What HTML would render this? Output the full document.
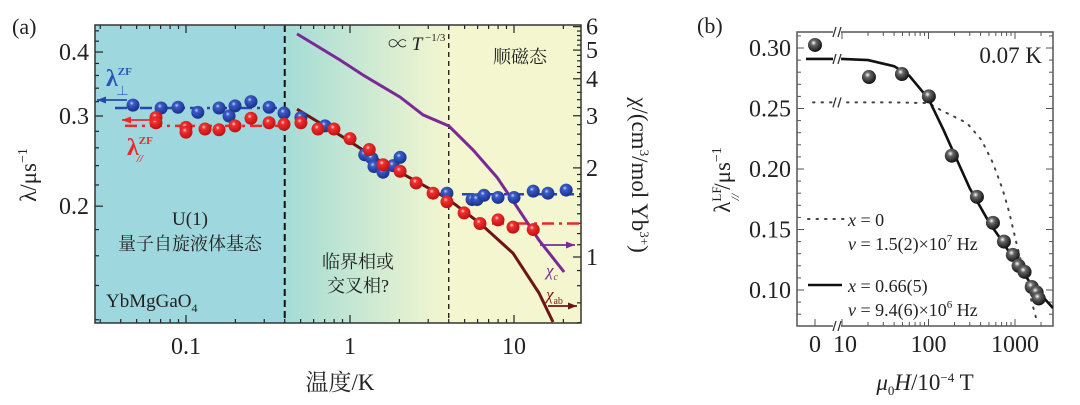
<!DOCTYPE html>
<html><head><meta charset="utf-8">
<style>
html,body{margin:0;padding:0;background:#fff;}
svg{display:block;font-family:"Liberation Serif","Noto Serif CJK SC",serif;}
</style></head>
<body>
<svg id="fig" width="1080" height="405" viewBox="0 0 1080 405" xmlns="http://www.w3.org/2000/svg">
<defs>
<linearGradient id="bgGrad" x1="0" x2="1" y1="0" y2="0">
<stop offset="0" stop-color="#a4dcd6"/><stop offset="1" stop-color="#f4f6cf"/>
</linearGradient>
<radialGradient id="blueBall" cx="0.4" cy="0.35" r="0.65">
<stop offset="0" stop-color="#c8d4ff"/><stop offset="0.25" stop-color="#3a5cc8"/><stop offset="1" stop-color="#1a2f8a"/>
</radialGradient>
<radialGradient id="redBall" cx="0.4" cy="0.35" r="0.65">
<stop offset="0" stop-color="#ffd8d8"/><stop offset="0.25" stop-color="#f03030"/><stop offset="1" stop-color="#c01010"/>
</radialGradient>
<radialGradient id="blackBall" cx="0.4" cy="0.35" r="0.65">
<stop offset="0" stop-color="#ffffff"/><stop offset="0.3" stop-color="#666"/><stop offset="1" stop-color="#111"/>
</radialGradient>
<clipPath id="clipB"><rect x="797" y="32" width="256" height="294"/></clipPath>
</defs>
<g id="pa"></g>
<g id="pb"></g>
</svg>
<script>
// ---------- Panel (a) data ----------
const blueT = [0.0475,0.0705,0.0894,0.118,0.159,0.183,0.199,0.249,0.321,0.396,0.502,0.704,1.23,1.36,1.40,1.59,1.83,2.02,3.90,5.55,5.95,6.56,7.99,10.0,13.1,16.1,20.8];
const blueLam = [0.315,0.311,0.312,0.305,0.311,0.300,0.314,0.320,0.312,0.304,0.298,0.287,0.252,0.248,0.239,0.233,0.240,0.249,0.212,0.206,0.206,0.210,0.208,0.208,0.214,0.212,0.215];
const redT = [0.0656,0.0656,0.1,0.1,0.1306,0.159,0.199,0.249,0.321,0.396,0.502,0.638,0.798,1.0,1.31,1.59,2.02,2.53,3.21,3.90,4.96,6.20,7.99,9.86,13.1];
const redLam = [0.298,0.291,0.285,0.279,0.283,0.282,0.287,0.297,0.291,0.289,0.291,0.283,0.283,0.271,0.258,0.241,0.234,0.222,0.212,0.204,0.194,0.185,0.188,0.182,0.180];
const chiCT = [0.475,0.869,1.20,2.02,2.79,4.01,5.62,7.87,10.4,14.2,20.2];
const chiCVal = [5.67,4.63,4.12,3.47,3.02,2.77,2.30,1.86,1.48,1.14,0.89];
const chiAbT = [0.475,0.869,1.59,3.90,6.20,9.86,14.2,17.3];
const chiAbVal = [3.16,2.58,2.08,1.58,1.30,1.03,0.756,0.603];
const aXTicks = [0.1,1,10];
const aXTickLabels = ["0.1","1","10"];
const aYTicks = [0.2,0.3,0.4];
const aYTickLabels = ["0.2","0.3","0.4"];
const aY2Ticks = [1,2,3,4,5,6];
const aY2TickLabels = ["1","2","3","4","5","6"];
// ---------- Panel (b) data ----------
const bField = [0,20.5,49.3,101,186,363,556,745,944,1100,1290,1560,1780,1880];
const bLam = [0.3025,0.276,0.2785,0.260,0.211,0.177,0.1555,0.140,0.129,0.120,0.115,0.1025,0.098,0.093];
const fitField = [10,20,40,60,100,150,200,300,500,700,1000,1500,2000,2750];
const fitLam = [0.291,0.290,0.285,0.277,0.258,0.232,0.212,0.184,0.156,0.141,0.124,0.106,0.096,0.085];
const dotField = [10,40,100,136,278,410,556,720,860,1060,1340,1780];
const dotLam = [0.255,0.255,0.2545,0.249,0.238,0.224,0.205,0.183,0.164,0.136,0.108,0.075];
const bYTicks = [0.10,0.15,0.20,0.25,0.30];
const bYTickLabels = ["0.10","0.15","0.20","0.25","0.30"];
const bXTicks = [10,100,1000];
const bXTickLabels = ["10","100","1000"];

const NS="http://www.w3.org/2000/svg";
function mk(parent,tag,attrs,text){const e=document.createElementNS(NS,tag);for(const k in attrs)e.setAttribute(k,attrs[k]);if(text!==undefined)e.textContent=text;parent.appendChild(e);return e;}

// ---- Panel (a) axes ----
const A={l:95,r:581,t:25,b:323};
const ax=T=>350+164*Math.log10(T);
const ay=v=>116-512*Math.log10(v/0.3);
const ay2=v=>257-296*Math.log10(v);
const pa=document.getElementById('pa');

let e;
e=mk(pa,'rect',{x:A.l,y:A.t,width:ax(0.4)-A.l,height:A.b-A.t,fill:'#9ed8de'});


e=mk(pa,'rect',{x:ax(0.4),y:A.t,width:ax(4)-ax(0.4),height:A.b-A.t,fill:'url(#bgGrad)'});


e=mk(pa,'rect',{x:ax(4),y:A.t,width:A.r-ax(4),height:A.b-A.t,fill:'#f4f6cf'});



e=mk(pa,'line',{x1:ax(0.4),x2:ax(0.4),y1:A.t,y2:A.b,stroke:'#111','stroke-width':2,'stroke-dasharray':'7,4'});


e=mk(pa,'line',{x1:ax(4),x2:ax(4),y1:A.t,y2:A.b,stroke:'#111','stroke-width':1.3,'stroke-dasharray':'5,4'});



const tg=mk(pa,'g',{stroke:'#222','stroke-width':1.2});


for(let d=-2;d<=1;d++)for(let m=1;m<10;m++){const T=m*Math.pow(10,d);const x=ax(T);if(x<A.l||x>A.r)continue;const L=m===1?8:4;mk(tg,'line',{x1:x,x2:x,y1:A.b,y2:A.b-L});mk(tg,'line',{x1:x,x2:x,y1:A.t,y2:A.t+L});}
for(let v=0.12;v<=0.45;v+=0.02){const y=ay(v);if(y<A.t||y>A.b)continue;const major=Math.abs(v*10-Math.round(v*10))<1e-6;mk(tg,'line',{x1:A.l,x2:A.l+(major?8:4),y1:y,y2:y});}
for(let v=0.6;v<=6.01;v+=(v<1.99?0.1:0.2)){const y=ay2(v);if(y<A.t-0.5||y>A.b)continue;const major=Math.abs(v-Math.round(v))<1e-6;mk(tg,'line',{x1:A.r,x2:A.r-(major?8:4),y1:y,y2:y});}

aXTicks.forEach((t,i)=>{const el=mk(pa,'text',{x:ax(t),y:354,'font-size':24,'text-anchor':'middle',fill:'#222'},aXTickLabels[i]);

});
aYTicks.forEach((t,i)=>{const el=mk(pa,'text',{x:89,y:ay(t)+8,'font-size':24,'text-anchor':'end',fill:'#222'},aYTickLabels[i]);

});
aY2Ticks.forEach((t,i)=>{const el=mk(pa,'text',{x:586,y:ay2(t)+8,'font-size':24,'text-anchor':'start',fill:'#222'},aY2TickLabels[i]);

});

function path(pts){return pts.map((p,i)=>(i?'L':'M')+p[0].toFixed(1)+','+p[1].toFixed(1)).join(' ');}
e=mk(pa,'line',{x1:115,x2:ax(0.4),y1:ay(0.311),y2:ay(0.311),stroke:'#2447b0','stroke-width':2.5,'stroke-dasharray':'12,5,3,5'});


e=mk(pa,'line',{x1:462,x2:A.r,y1:ay(0.211),y2:ay(0.211),stroke:'#2447b0','stroke-width':2.5,'stroke-dasharray':'12,5,3,5'});


e=mk(pa,'line',{x1:125,x2:ax(0.4),y1:ay(0.287),y2:ay(0.287),stroke:'#e82a2a','stroke-width':2.5,'stroke-dasharray':'12,5,3,5'});


e=mk(pa,'line',{x1:492,x2:A.r,y1:ay(0.185),y2:ay(0.185),stroke:'#e82a2a','stroke-width':2.5,'stroke-dasharray':'12,5,3,5'});



e=mk(pa,'path',{d:path(chiCT.map((t,i)=>[ax(t),ay2(chiCVal[i])])),fill:'none',stroke:'#7a2a96','stroke-width':3});


e=mk(pa,'path',{d:path(chiAbT.map((t,i)=>[ax(t),ay2(chiAbVal[i])])),fill:'none',stroke:'#6e1414','stroke-width':3});



blueT.forEach((t,i)=>{const c=mk(pa,'circle',{cx:ax(t),cy:ay(blueLam[i]),r:6.5,fill:'url(#blueBall)'});

});
redT.forEach((t,i)=>{const c=mk(pa,'circle',{cx:ax(t),cy:ay(redLam[i]),r:6.5,fill:'url(#redBall)'});

});

function arrow(g,x1,y1,x2,y2,col,name){const a=mk(g,'g',{});
mk(a,'line',{x1:x1,y1:y1,x2:x2,y2:y2,stroke:col,'stroke-width':1.8});const dir=Math.sign(x2-x1);
mk(a,'polygon',{points:`${x2},${y2} ${x2-dir*9},${y2-3.5} ${x2-dir*9},${y2+3.5}`,fill:col});}
arrow(pa,127,100,97,100,'#2447b0','blue-arrow-left');
arrow(pa,160,120,122,120,'#e82a2a','red-arrow-left');
arrow(pa,540,245,575,245,'#7a2a96','chi-c-arrow');
arrow(pa,548,306,577,306,'#6e1414','chi-ab-arrow');

e=mk(pa,'rect',{x:A.l,y:A.t,width:A.r-A.l,height:A.b-A.t,fill:'none',stroke:'#333','stroke-width':1.5});



function txt(g,x,y,s,attrs,name,html){const t=mk(g,'text',Object.assign({x:x,y:y,fill:'#222'},attrs));if(html)t.innerHTML=s;else t.textContent=s;return t;}
txt(pa,12,34,'(a)',{'font-size':22},'panel-a-label');
txt(pa,106,86,'λ<tspan font-size="11" dy="-11">ZF</tspan><tspan font-size="13" dx="-16" dy="20">⊥</tspan>',{'font-size':24,fill:'#2a55b8','font-weight':'bold'},'lambda-perp-label',true);
txt(pa,127,155,'λ<tspan font-size="11" dy="-11">ZF</tspan><tspan font-size="11" dx="-16" dy="18" font-style="italic">//</tspan>',{'font-size':24,fill:'#e82a2a','font-weight':'bold'},'lambda-par-label',true);
txt(pa,190,225,'U(1)',{'font-size':19,'text-anchor':'middle'},'u1-label');
txt(pa,190,250,'量子自旋液体基态',{'font-size':18,'text-anchor':'middle'},'qsl-label');
txt(pa,106,307,'YbMgGaO<tspan font-size="12" dy="5">4</tspan>',{'font-size':19},'compound-label',true);
txt(pa,358,268,'临界相或',{'font-size':18,'text-anchor':'middle'},'critical-label');
txt(pa,358,292,'交叉相?',{'font-size':18,'text-anchor':'middle'},'crossover-label');
txt(pa,388,50,'∝ <tspan font-style="italic">T</tspan><tspan font-size="11" dy="-9"> −1/3</tspan>',{'font-size':19},'power-law-label',true);
txt(pa,520,63,'顺磁态',{'font-size':18,'text-anchor':'middle'},'paramagnetic-label');
txt(pa,546,276,'χ<tspan font-size="10" dy="4">c</tspan>',{'font-size':17,fill:'#7a2a96','font-style':'italic'},'chi-c-label',true);
txt(pa,546,300,'χ<tspan font-size="10" dy="4" font-style="normal">ab</tspan>',{'font-size':17,fill:'#8a1414','font-style':'italic'},'chi-ab-label',true);
txt(pa,340,390,'温度/K',{'font-size':23,'text-anchor':'middle'},'x-axis-title-a');
txt(pa,0,0,'λ/μs<tspan font-size="14" dy="-9">−1</tspan>',{'font-size':23,'text-anchor':'middle',transform:'translate(36,175) rotate(-90)'},'y-axis-title-a',true);
txt(pa,0,0,'χ/(cm<tspan font-size="13" dy="-8">3</tspan><tspan dy="8">/mol Yb</tspan><tspan font-size="13" dy="-8">3+</tspan><tspan dy="8">)</tspan>',{'font-size':23,'text-anchor':'middle',transform:'translate(632,175) rotate(90)'},'y2-axis-title-a',true);

// ---- Panel (b) ----
const B={l:797,r:1053,t:32,b:326};
const bx=H=>H<=0?815:842+86.5*Math.log10(H/10);
const by=v=>48+(0.30-v)*1210;
const pb=document.getElementById('pb');
e=mk(pb,'rect',{x:B.l,y:B.t,width:B.r-B.l,height:B.b-B.t,fill:'#fff',stroke:'#555','stroke-width':1.5});


const tb=mk(pb,'g',{stroke:'#555','stroke-width':1});


for(let d=1;d<=3;d++)for(let m=1;m<10;m++){const H=m*Math.pow(10,d);const x=bx(H);if(x>B.r)continue;const L=m===1?7:4;mk(tb,'line',{x1:x,x2:x,y1:B.b,y2:B.b-L});mk(tb,'line',{x1:x,x2:x,y1:B.t,y2:B.t+L});}
mk(tb,'line',{x1:815,x2:815,y1:B.b,y2:B.b-7});
for(let k=7;k<=31;k++){const v=k/100;const y=by(v);if(y<B.t||y>B.b)continue;const major=k%5===0;mk(tb,'line',{x1:B.l,x2:B.l+(major?7:4),y1:y,y2:y});mk(tb,'line',{x1:B.r,x2:B.r-(major?7:4),y1:y,y2:y});}
bYTicks.forEach((t,i)=>{const el=mk(pb,'text',{x:791,y:by(t)+8,'font-size':24,'text-anchor':'end',fill:'#222'},bYTickLabels[i]);

});
bXTicks.forEach((t,i)=>{const el=mk(pb,'text',{x:bx(t)+(i===0?3:0),y:352,'font-size':24,'text-anchor':'middle',fill:'#222'},bXTickLabels[i]);

});
e=mk(pb,'text',{x:815,y:352,'font-size':24,'text-anchor':'middle',fill:'#222'},'0');



const cg=mk(pb,'g',{'clip-path':'url(#clipB)'});


const dotPts=[[813,by(dotLam[0])]].concat(dotField.map((h,i)=>[bx(h),by(dotLam[i])]));
e=mk(cg,'path',{d:path(dotPts),fill:'none',stroke:'#444','stroke-width':2,'stroke-dasharray':'1.5,7','stroke-linecap':'round'});


const fitPts=[[806,by(fitLam[0])]].concat(fitField.map((h,i)=>[bx(h),by(fitLam[i])]));
e=mk(cg,'path',{d:path(fitPts),fill:'none',stroke:'#111','stroke-width':2.6});


[[837,B.t],[837,by(0.291)],[837,by(0.255)],[837,B.b]].forEach(p=>{const g=mk(pb,'g',{stroke:'#333','stroke-width':1.3});


mk(g,'rect',{x:p[0]-4,y:p[1]-5,width:8,height:10,fill:'#fff',stroke:'none'});
mk(g,'line',{x1:p[0]-4,y1:p[1]+5,x2:p[0]-1,y2:p[1]-5});mk(g,'line',{x1:p[0]+1,y1:p[1]+5,x2:p[0]+4,y2:p[1]-5});});
bField.forEach((h,i)=>{const c=mk(pb,'circle',{cx:bx(h),cy:by(bLam[i]),r:7,fill:'url(#blackBall)'});

});

e=mk(pb,'line',{x1:808,x2:845,y1:219,y2:219,stroke:'#444','stroke-width':2,'stroke-dasharray':'1.5,7','stroke-linecap':'round'});


e=mk(pb,'line',{x1:808,x2:842,y1:285,y2:285,stroke:'#111','stroke-width':2.6});


txt(pb,848,226,'<tspan font-style="italic">x</tspan> = 0',{'font-size':18},'legend-x0',true);
txt(pb,848,250,'<tspan font-style="italic">v</tspan> = 1.5(2)×10<tspan font-size="11" dy="-8">7</tspan><tspan dy="8"> Hz</tspan>',{'font-size':18},'legend-v0',true);
txt(pb,848,292,'<tspan font-style="italic">x</tspan> = 0.66(5)',{'font-size':18},'legend-x066',true);
txt(pb,848,316,'<tspan font-style="italic">v</tspan> = 9.4(6)×10<tspan font-size="11" dy="-8">6</tspan><tspan dy="8"> Hz</tspan>',{'font-size':18},'legend-v066',true);
txt(pb,1042,63,'0.07 K',{'font-size':23,'text-anchor':'end'},'temperature-label');
txt(pb,697,33,'(b)',{'font-size':22},'panel-b-label');
txt(pb,925,390,'<tspan font-style="italic">μ</tspan><tspan font-size="13" dy="5">0</tspan><tspan dy="-5" font-style="italic">H</tspan>/10<tspan font-size="13" dy="-8">−4</tspan><tspan dy="8"> T</tspan>',{'font-size':23,'text-anchor':'middle'},'x-axis-title-b',true);
txt(pb,0,0,'λ<tspan font-size="13" dy="-9">LF</tspan><tspan font-size="12" dx="-14" dy="18" font-style="italic">//</tspan><tspan dy="-9" dx="4">/μs</tspan><tspan font-size="14" dy="-9">−1</tspan>',{'font-size':23,'text-anchor':'middle',transform:'translate(730,180) rotate(-90)'},'y-axis-title-b',true);
</script>
</body></html>
